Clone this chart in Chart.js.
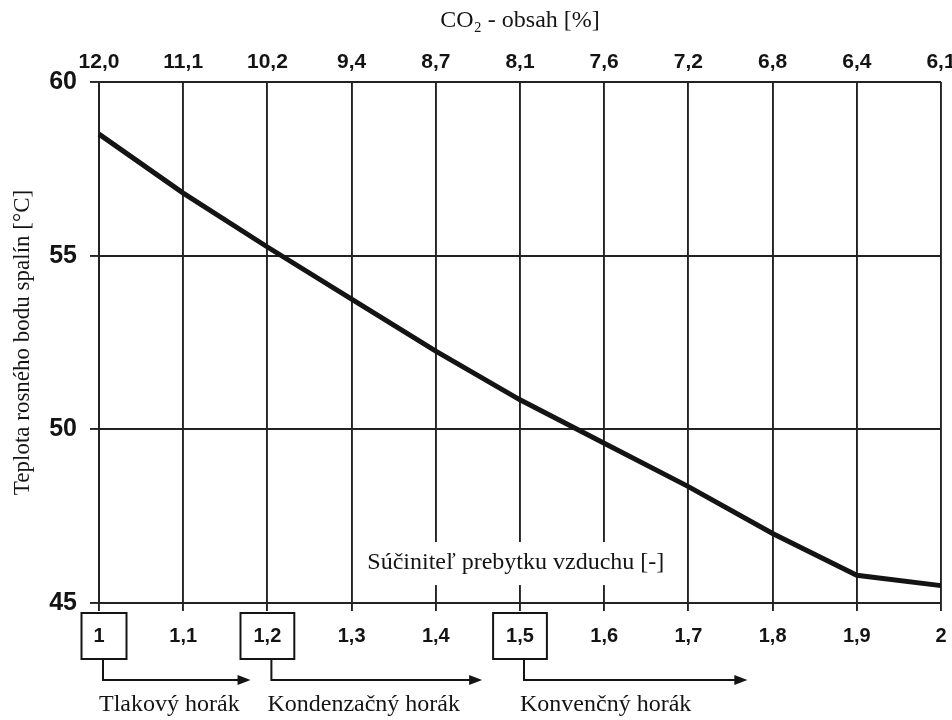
<!DOCTYPE html>
<html>
<head>
<meta charset="utf-8">
<script src="https://cdn.jsdelivr.net/npm/chart.js@4"></script>
<style>
  body { margin: 0; background: #fff; }
  #wrap { width: 952px; height: 720px; }
</style>
</head>
<body>
<div id="wrap"><canvas id="dewChart"></canvas></div>
<script>
// súčiniteľ prebytku vzduchu (dolná os) a CO2 (horná os)
const airRatio = [1, 1.1, 1.2, 1.3, 1.4, 1.5, 1.6, 1.7, 1.8, 1.9, 2];
const co2Labels = ['12,0', '11,1', '10,2', '9,4', '8,7', '8,1', '7,6', '7,2', '6,8', '6,4', '6,1'];
const dewPoint = [58.5, 56.8, 55.25, 53.75, 52.25, 50.85, 49.6, 48.35, 47.0, 45.8, 45.5];
const tempTicks = [45, 50, 55, 60];

// typy horákov: začiatok (zarámovaná hodnota) a koniec šípky
const burnerNames = ['Tlakový horák', 'Kondenzačný horák', 'Konvenčný horák'];
const burnerStart = [1, 1.2, 1.5];
const burnerEnd = [1.18, 1.455, 1.77];

const axisTitle = 'Súčiniteľ prebytku vzduchu [-]';

const ink = '#141414';
const gridInk = '#222';
const serif = "'Liberation Serif', 'DejaVu Serif', serif";
const sans = "'Liberation Sans', Arial, sans-serif";

function commaNum(v) {
    return String(Math.round(v * 10) / 10).replace('.', ',');
}

// pevný okraj vpravo, aby posledný popis nezužoval graf
function fixSidePadding(s) {
    s.paddingLeft = 0;
    s.paddingRight = 11;
}

const annotations = {
    id: 'annotations',
    beforeDatasetsDraw(chart) {
        const ctx = chart.ctx;
        const x = chart.scales.x, y = chart.scales.y;
        ctx.save();
        ctx.font = '24px ' + serif;
        const w = ctx.measureText(axisTitle).width;
        const cx = x.getPixelForValue(1.495);
        const cy = y.getPixelForValue(46.15);
        ctx.fillStyle = '#fff';
        ctx.fillRect(cx - w / 2 - 7, cy - 21, w + 14, 43);
        ctx.fillStyle = ink;
        ctx.textAlign = 'center';
        ctx.textBaseline = 'middle';
        ctx.fillText(axisTitle, cx, cy);
        ctx.restore();
    },
    afterDraw(chart) {
        const ctx = chart.ctx;
        const x = chart.scales.x;
        const boxTop = 613, boxBottom = 659, arrowY = 680;
        ctx.save();
        ctx.strokeStyle = ink;
        ctx.fillStyle = ink;
        ctx.lineWidth = 2;
        burnerStart.forEach((v, i) => {
            const px = x.getPixelForValue(v);
            ctx.font = 'bold 20px ' + sans;
            const tw = ctx.measureText(commaNum(v)).width;
            const bw = Math.max(45, tw + 26);
            ctx.strokeRect(px - bw / 2 + (i === 0 ? 5 : 0), boxTop, bw, boxBottom - boxTop);

            const ax = px + 4;
            const ex = x.getPixelForValue(burnerEnd[i]);
            ctx.beginPath();
            ctx.moveTo(ax, boxBottom);
            ctx.lineTo(ax, arrowY);
            ctx.lineTo(ex - 10, arrowY);
            ctx.stroke();
            ctx.beginPath();
            ctx.moveTo(ex, arrowY);
            ctx.lineTo(ex - 13, arrowY - 5);
            ctx.lineTo(ex - 13, arrowY + 5);
            ctx.closePath();
            ctx.fill();

            ctx.font = '24px ' + serif;
            ctx.textAlign = 'left';
            ctx.textBaseline = 'middle';
            ctx.fillText(burnerNames[i], ax - 4, 705);
        });
        ctx.restore();
    }
};

const ctx = document.getElementById('dewChart').getContext('2d');
new Chart(ctx, {
    type: 'line',
    data: {
        datasets: [{
            data: airRatio.map((a, i) => ({ x: a, y: dewPoint[i] })),
            borderColor: ink,
            borderWidth: 5,
            pointRadius: 0,
            tension: 0,
            clip: false
        }]
    },
    options: {
        responsive: true,
        maintainAspectRatio: false,
        animation: false,
        layout: { padding: 0 },
        plugins: { legend: { display: false }, tooltip: { enabled: false } },
        scales: {
            x: {
                type: 'linear',
                position: 'bottom',
                min: 1,
                max: 2,
                afterBuildTicks: s => { s.ticks = airRatio.map(v => ({ value: v })); },
                afterFit: s => { s.height = 117; fixSidePadding(s); },
                ticks: {
                    callback: v => commaNum(v),
                    font: { family: sans, size: 20, weight: 'bold' },
                    color: ink,
                    padding: 13,
                    maxRotation: 0,
                    autoSkip: false
                },
                grid: { color: gridInk, lineWidth: 1.9, tickLength: 8 },
                border: { display: true, color: gridInk, width: 1.9 }
            },
            xTop: {
                type: 'linear',
                position: 'top',
                min: 1,
                max: 2,
                afterBuildTicks: s => { s.ticks = airRatio.map(v => ({ value: v })); },
                afterFit: s => { s.height = 82; fixSidePadding(s); },
                ticks: {
                    callback: (v, i) => co2Labels[i],
                    font: { family: sans, size: 21, weight: 'bold' },
                    color: ink,
                    padding: 7,
                    maxRotation: 0,
                    autoSkip: false
                },
                grid: { drawOnChartArea: false, drawTicks: false },
                border: { display: false },
                title: {
                    display: true,
                    text: 'CO₂ - obsah [%]',
                    font: { family: serif, size: 24 },
                    color: ink,
                    padding: { top: 6, bottom: 0 }
                }
            },
            y: {
                position: 'left',
                min: 45,
                max: 60,
                afterBuildTicks: s => { s.ticks = tempTicks.map(v => ({ value: v })); },
                afterFit: s => { s.width = 99; },
                ticks: {
                    font: { family: sans, size: 25, weight: 'bold' },
                    color: ink,
                    padding: 13
                },
                grid: { color: gridInk, lineWidth: 1.9, tickLength: 9 },
                border: { display: true, color: gridInk, width: 1.9 },
                title: {
                    display: true,
                    text: 'Teplota rosného bodu spalín [°C]',
                    font: { family: serif, size: 23 },
                    color: ink,
                    padding: { top: 9, bottom: 0 }
                }
            }
        }
    },
    plugins: [annotations]
});
</script>
</body>
</html>
